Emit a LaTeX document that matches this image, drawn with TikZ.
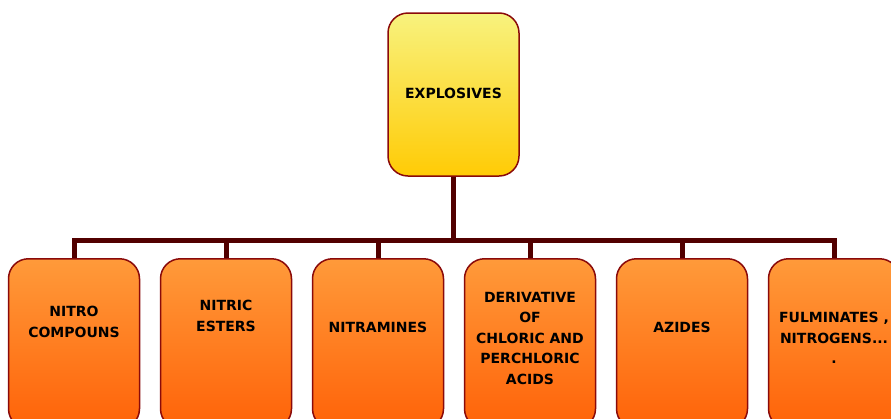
\documentclass[tikz,border=0pt]{standalone}
\usepackage{fontspec}
\setmainfont{DejaVu Sans}
\usetikzlibrary{positioning}

\definecolor{barred}{HTML}{520000}
\definecolor{edgered}{HTML}{8A0A0A}
\definecolor{yellowtop}{HTML}{F8F27E}
\definecolor{yellowbot}{HTML}{FFCB05}
\definecolor{orangetop}{HTML}{FF9A3A}
\definecolor{orangebot}{HTML}{FF6208}

\begin{document}
\begin{tikzpicture}
    [
        x = 1pt, y = -1pt,
        node distance = 19.5pt,
        topbox/.style = {draw = edgered, line width = 1.5pt, rounded corners = 20pt,
            top color = yellowtop, bottom color = yellowbot,
            minimum width = 131pt, minimum height = 163pt},
        leafbox/.style = {draw = edgered, line width = 1.5pt, rounded corners = 20pt,
            top color = orangetop, bottom color = orangebot,
            minimum width = 131pt, minimum height = 170pt, anchor = north},
        boxtext/.style = {align = center, inner sep = 0pt,
            font = \bfseries\fontsize{14}{20.5}\selectfont},
        link/.style = {draw = barred, line width = 5pt}
    ]
    \useasboundingbox (0,0) rectangle (891,418);
    \clip (0,0) rectangle (891,418);

    % root
    \node[topbox] (Explosives) at (453.5,94.5) {};
    \node[boxtext] (ExplosivesText) at ([yshift=-81pt]Explosives.north) {EXPLOSIVES};

    % families
    \node[leafbox] (Nitro) at (74,258) {};
    \node[leafbox, right = of Nitro] (Esters) {};
    \node[leafbox, right = of Esters] (Nitramines) {};
    \node[leafbox, right = of Nitramines] (Chloric) {};
    \node[leafbox, right = of Chloric] (Azides) {};
    \node[leafbox, right = of Azides] (Fulminates) {};

    \node[boxtext] (NitroText) at ([yshift=-64pt]Nitro.north) {NITRO\\COMPOUNS};
    \node[boxtext] (EstersText) at ([yshift=-58pt]Esters.north) {NITRIC\\ESTERS};
    \node[boxtext] (NitraminesText) at ([yshift=-69pt]Nitramines.north) {NITRAMINES};
    \node[boxtext] (ChloricText) at ([yshift=-80pt]Chloric.north) {DERIVATIVE\\OF\\CHLORIC AND\\PERCHLORIC\\ACIDS};
    \node[boxtext] (AzidesText) at ([yshift=-69pt]Azides.north) {AZIDES};
    \node[boxtext] (FulminatesText) at ([yshift=-80pt]Fulminates.north) {FULMINATES ,\\NITROGENS...\\.};

    % connectors
    \coordinate (Bus) at (453.5,240);
    \draw[link] (Explosives.south) -- (Explosives.south |- Bus);
    \foreach \child in {Nitro, Esters, Nitramines, Chloric, Azides, Fulminates}
        \draw[link] (Explosives.south |- Bus) -| (\child.north);
\end{tikzpicture}
\end{document}
